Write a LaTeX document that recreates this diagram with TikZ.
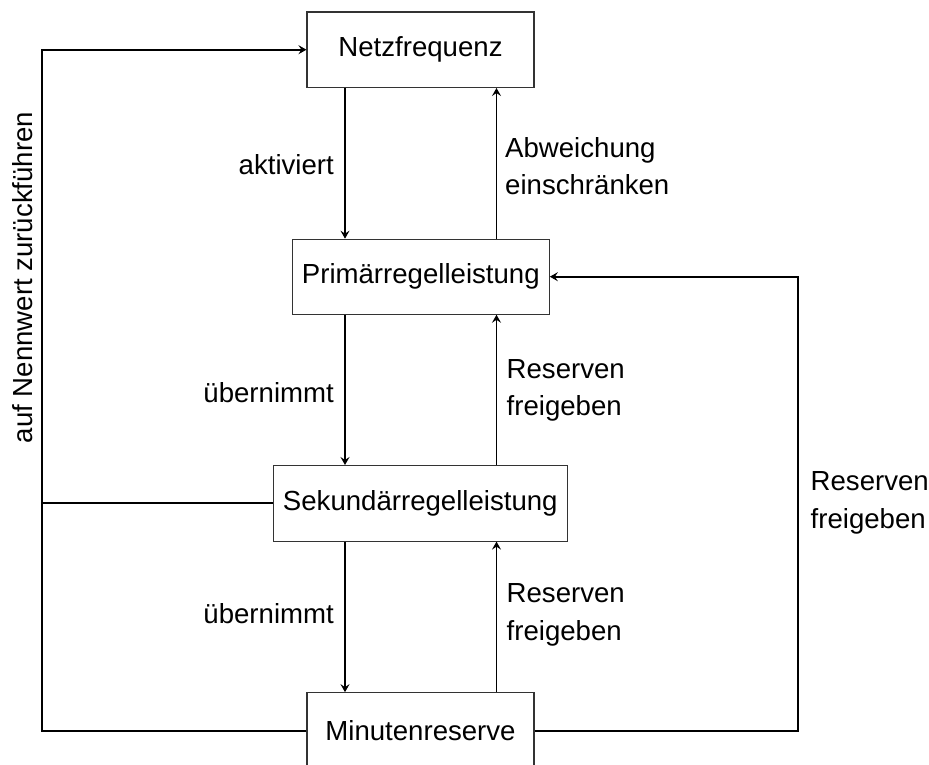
\documentclass[tikz,border=0pt]{standalone}
\usepackage{fontspec}
\setmainfont{Liberation Sans}
\usetikzlibrary{arrows.meta}
\begin{document}
\begin{tikzpicture}[x=1pt,y=-1pt,
  font=\fontsize{27.6}{37.5}\selectfont,
  box/.style={draw=black!80,line width=1.1pt,inner sep=0pt,fill=white},
  conn/.style={line width=1.8pt,black},
  arr/.style={conn,-{Stealth[length=8pt,width=9pt,inset=3pt]}},
  lbl/.style={inner sep=0pt,align=left}]
\useasboundingbox (0,0) rectangle (929,764);
\begin{scope}
\clip (0,0) rectangle (929,764);

% control chain
\node[box,minimum width=227pt,minimum height=75.5pt] (netz) at (420.5,49.7) {Netzfrequenz};
\node[box,minimum width=257pt,minimum height=75pt] (prim) at (420.8,276.7) {Primärregelleistung};
\node[box,minimum width=294pt,minimum height=75.5pt] (sek) at (420.3,503.3) {Sekundärregelleistung};
\node[box,minimum width=227pt,minimum height=76pt] (minu) at (420.5,730.7) {Minutenreserve};

% columns of the vertical connectors
\coordinate (dn) at (345,0);
\coordinate (up) at (496.5,0);
\coordinate (lx) at (42,0);
\coordinate (rx) at (798.3,0);

% downward links
\draw[arr] (netz.south -| dn) -- (prim.north -| dn);
\draw[arr] (prim.south -| dn) -- (sek.north -| dn);
\draw[arr] (sek.south -| dn) -- (minu.north -| dn);

% upward links
\draw[arr] (prim.north -| up) -- (netz.south -| up);
\draw[arr] (sek.north -| up) -- (prim.south -| up);
\draw[arr] (minu.north -| up) -- (sek.south -| up);

% left feedback loop
\draw[arr] (minu.west) -- (minu.west -| lx) -- (netz.west -| lx) -- (netz.west);
\draw[conn] (sek.west) -- (sek.west -| lx);

% right feedback loop
\draw[arr] (minu.east) -- (minu.east -| rx) -- (prim.east -| rx) -- (prim.east);

% labels
\node[lbl,anchor=east] (l1) at (334,165) {aktiviert};
\node[lbl,anchor=west] (l2) at (505,166) {Abweichung\\einschränken};
\node[lbl,anchor=east] (l3) at (334,392.7) {übernimmt};
\node[lbl,anchor=west] (l4) at (506.5,390.5) {Reserven\\freigeben};
\node[lbl,anchor=east] (l5) at (334,614) {übernimmt};
\node[lbl,anchor=west] (l6) at (506.5,615) {Reserven\\freigeben};
\node[lbl,anchor=west] (l7) at (810.5,503) {Reserven\\freigeben};
\node[lbl,rotate=90] (l8) at (23,277.5) {auf Nennwert zurückführen};
\end{scope}
\end{tikzpicture}
\end{document}
